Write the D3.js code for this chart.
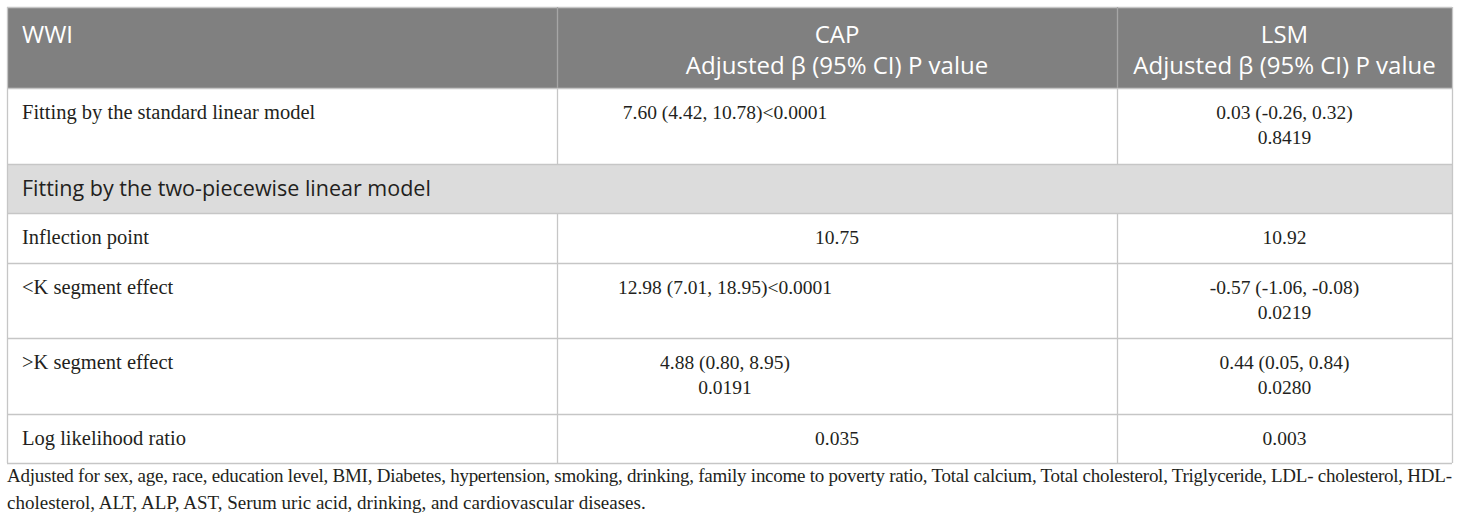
<!DOCTYPE html>
<html>
<head>
<meta charset="utf-8">
<script src="https://cdn.jsdelivr.net/npm/d3@7"></script>
<style>
  html, body { margin: 0; padding: 0; background: #fff; }
  svg { display: block; }
</style>
</head>
<body>
<svg id="table" width="1460" height="525"></svg>
<script>
// --- table content ---
const headerTitles = ["WWI", "CAP", "LSM"];
const headerSubtitles = ["", "Adjusted β (95% CI) P value", "Adjusted β (95% CI) P value"];
const sectionLabel = "Fitting by the two-piecewise linear model";
const rowLabels = [
    "Fitting by the standard linear model",
    "Inflection point",
    "<K segment effect",
    ">K segment effect",
    "Log likelihood ratio"
];
const capValues = [
    ["7.60 (4.42, 10.78)<0.0001"],
    ["10.75"],
    ["12.98 (7.01, 18.95)<0.0001"],
    ["4.88 (0.80, 8.95)", "0.0191"],
    ["0.035"]
];
const lsmValues = [
    ["0.03 (-0.26, 0.32)", "0.8419"],
    ["10.92"],
    ["-0.57 (-1.06, -0.08)", "0.0219"],
    ["0.44 (0.05, 0.84)", "0.0280"],
    ["0.003"]
];
const footnoteLines = [
    "Adjusted for sex, age, race, education level, BMI, Diabetes, hypertension, smoking, drinking, family income to poverty ratio, Total calcium, Total cholesterol, Triglyceride, LDL- cholesterol, HDL-",
    "cholesterol, ALT, ALP, AST, Serum uric acid, drinking, and cardiovascular diseases."
];

// --- layout ---
const colEdges = [7, 557, 1117, 1452];
const headerTop = 7, headerH = 81;
const bodyRowH = [76, 50, 75, 76, 49];
const sectionH = 49;
const sectionAfter = 0; // section row sits after the first body row
const sansFont = "'Open Sans', 'Noto Sans', sans-serif";
const serifFont = "'Liberation Serif', 'DejaVu Serif', serif";
const lineColor = "#c6c6c6";
const textColor = "#231f20";

const svg = d3.select("#table");

const colX = d3.scaleOrdinal().domain(d3.range(3)).range(colEdges.slice(0, 3));
const colW = d3.scaleOrdinal().domain(d3.range(3)).range(d3.range(3).map(i => colEdges[i + 1] - colEdges[i]));
const tableW = colEdges[3] - colEdges[0];

// build row list: body rows with the section row inserted
const rows = [];
let y = headerTop + headerH;
rowLabels.forEach((label, i) => {
    rows.push({ type: "body", label, cap: capValues[i], lsm: lsmValues[i], y, h: bodyRowH[i] });
    y += bodyRowH[i];
    if (i === sectionAfter) {
        rows.push({ type: "section", label: sectionLabel, y, h: sectionH });
        y += sectionH;
    }
});
const tableBottom = y;

// header
svg.append("rect")
    .attr("x", colEdges[0]).attr("y", headerTop)
    .attr("width", tableW).attr("height", headerH)
    .attr("fill", "#808080");

const head = svg.selectAll("g.head")
    .data(headerTitles)
    .join("g")
    .attr("class", "head");

head.append("text")
    .attr("x", (d, i) => i === 0 ? colX(i) + 15 : colX(i) + colW(i) / 2)
    .attr("y", headerTop + 36)
    .attr("text-anchor", (d, i) => i === 0 ? "start" : "middle")
    .attr("font-family", sansFont)
    .attr("font-size", 24)
    .attr("fill", "#fff")
    .text(d => d);

head.append("text")
    .attr("x", (d, i) => colX(i) + colW(i) / 2)
    .attr("y", headerTop + 67)
    .attr("text-anchor", "middle")
    .attr("font-family", sansFont)
    .attr("font-size", 24)
    .attr("fill", "#fff")
    .text((d, i) => headerSubtitles[i]);

// section row background
svg.selectAll("rect.section")
    .data(rows.filter(r => r.type === "section"))
    .join("rect")
    .attr("class", "section")
    .attr("x", colEdges[0]).attr("y", d => d.y)
    .attr("width", tableW).attr("height", d => d.h)
    .attr("fill", "#dcdcdc");

// horizontal lines
const hLines = [headerTop].concat(rows.map(r => r.y), [tableBottom]);
svg.selectAll("line.h")
    .data(hLines)
    .join("line")
    .attr("class", "h")
    .attr("x1", colEdges[0]).attr("x2", colEdges[3])
    .attr("y1", d => d + 0.5).attr("y2", d => d + 0.5)
    .attr("stroke", lineColor).attr("stroke-width", 1.3);

// vertical lines: outer edges full height, inner dividers skip the section row
svg.selectAll("line.outer")
    .data([colEdges[0], colEdges[3]])
    .join("line")
    .attr("class", "outer")
    .attr("x1", d => d + 0.5).attr("x2", d => d + 0.5)
    .attr("y1", headerTop).attr("y2", tableBottom)
    .attr("stroke", lineColor).attr("stroke-width", 1.3);

const segments = [];
[1, 2].forEach(c => {
    segments.push({ x: colEdges[c], y1: headerTop, y2: headerTop + headerH, head: true });
    rows.filter(r => r.type === "body").forEach(r => segments.push({ x: colEdges[c], y1: r.y, y2: r.y + r.h }));
});
svg.selectAll("line.inner")
    .data(segments)
    .join("line")
    .attr("class", "inner")
    .attr("x1", d => d.x + 0.5).attr("x2", d => d.x + 0.5)
    .attr("y1", d => d.y1).attr("y2", d => d.y2)
    .attr("stroke", d => d.head ? "#a6a6a6" : lineColor)
    .attr("stroke-width", 1.3);

// section label
svg.selectAll("text.section")
    .data(rows.filter(r => r.type === "section"))
    .join("text")
    .attr("class", "section")
    .attr("x", colEdges[0] + 15)
    .attr("y", d => d.y + 32)
    .attr("font-family", sansFont)
    .attr("font-size", 21.5)
    .attr("fill", textColor)
    .text(d => d.label);

// body cells
const bodyRows = svg.selectAll("g.row")
    .data(rows.filter(r => r.type === "body"))
    .join("g")
    .attr("class", "row")
    .attr("transform", d => `translate(0,${d.y + 31})`);

bodyRows.append("text")
    .attr("x", colEdges[0] + 15)
    .attr("font-family", serifFont)
    .attr("font-size", 20.5)
    .attr("fill", textColor)
    .text(d => d.label);

// CI cells in the CAP column sit left of the column centre, plain numbers are centred
const capCiCentre = 725;
bodyRows.each(function(d) {
    const g = d3.select(this);
    [[1, d.cap], [2, d.lsm]].forEach(([c, lines]) => {
        const cx = (c === 1 && lines[0].includes("(")) ? capCiCentre : colX(c) + colW(c) / 2;
        g.selectAll(null)
            .data(lines)
            .join("text")
            .attr("x", cx)
            .attr("y", (t, k) => k * 25)
            .attr("text-anchor", "middle")
            .attr("font-family", serifFont)
            .attr("font-size", 19.5)
            .attr("fill", textColor)
            .text(t => t);
    });
});

// footnote
svg.selectAll("text.foot")
    .data(footnoteLines)
    .join("text")
    .attr("class", "foot")
    .attr("x", colEdges[0])
    .attr("y", (d, i) => tableBottom + 19 + i * 27)
    .attr("font-family", serifFont)
    .attr("font-size", 19)
    .attr("fill", textColor)
    .each(function(d, i) {
        if (i === 0) {
            d3.select(this).attr("textLength", colEdges[3] - colEdges[0]).attr("lengthAdjust", "spacing");
        }
    })
    .text(d => d);
</script>
</body>
</html>
